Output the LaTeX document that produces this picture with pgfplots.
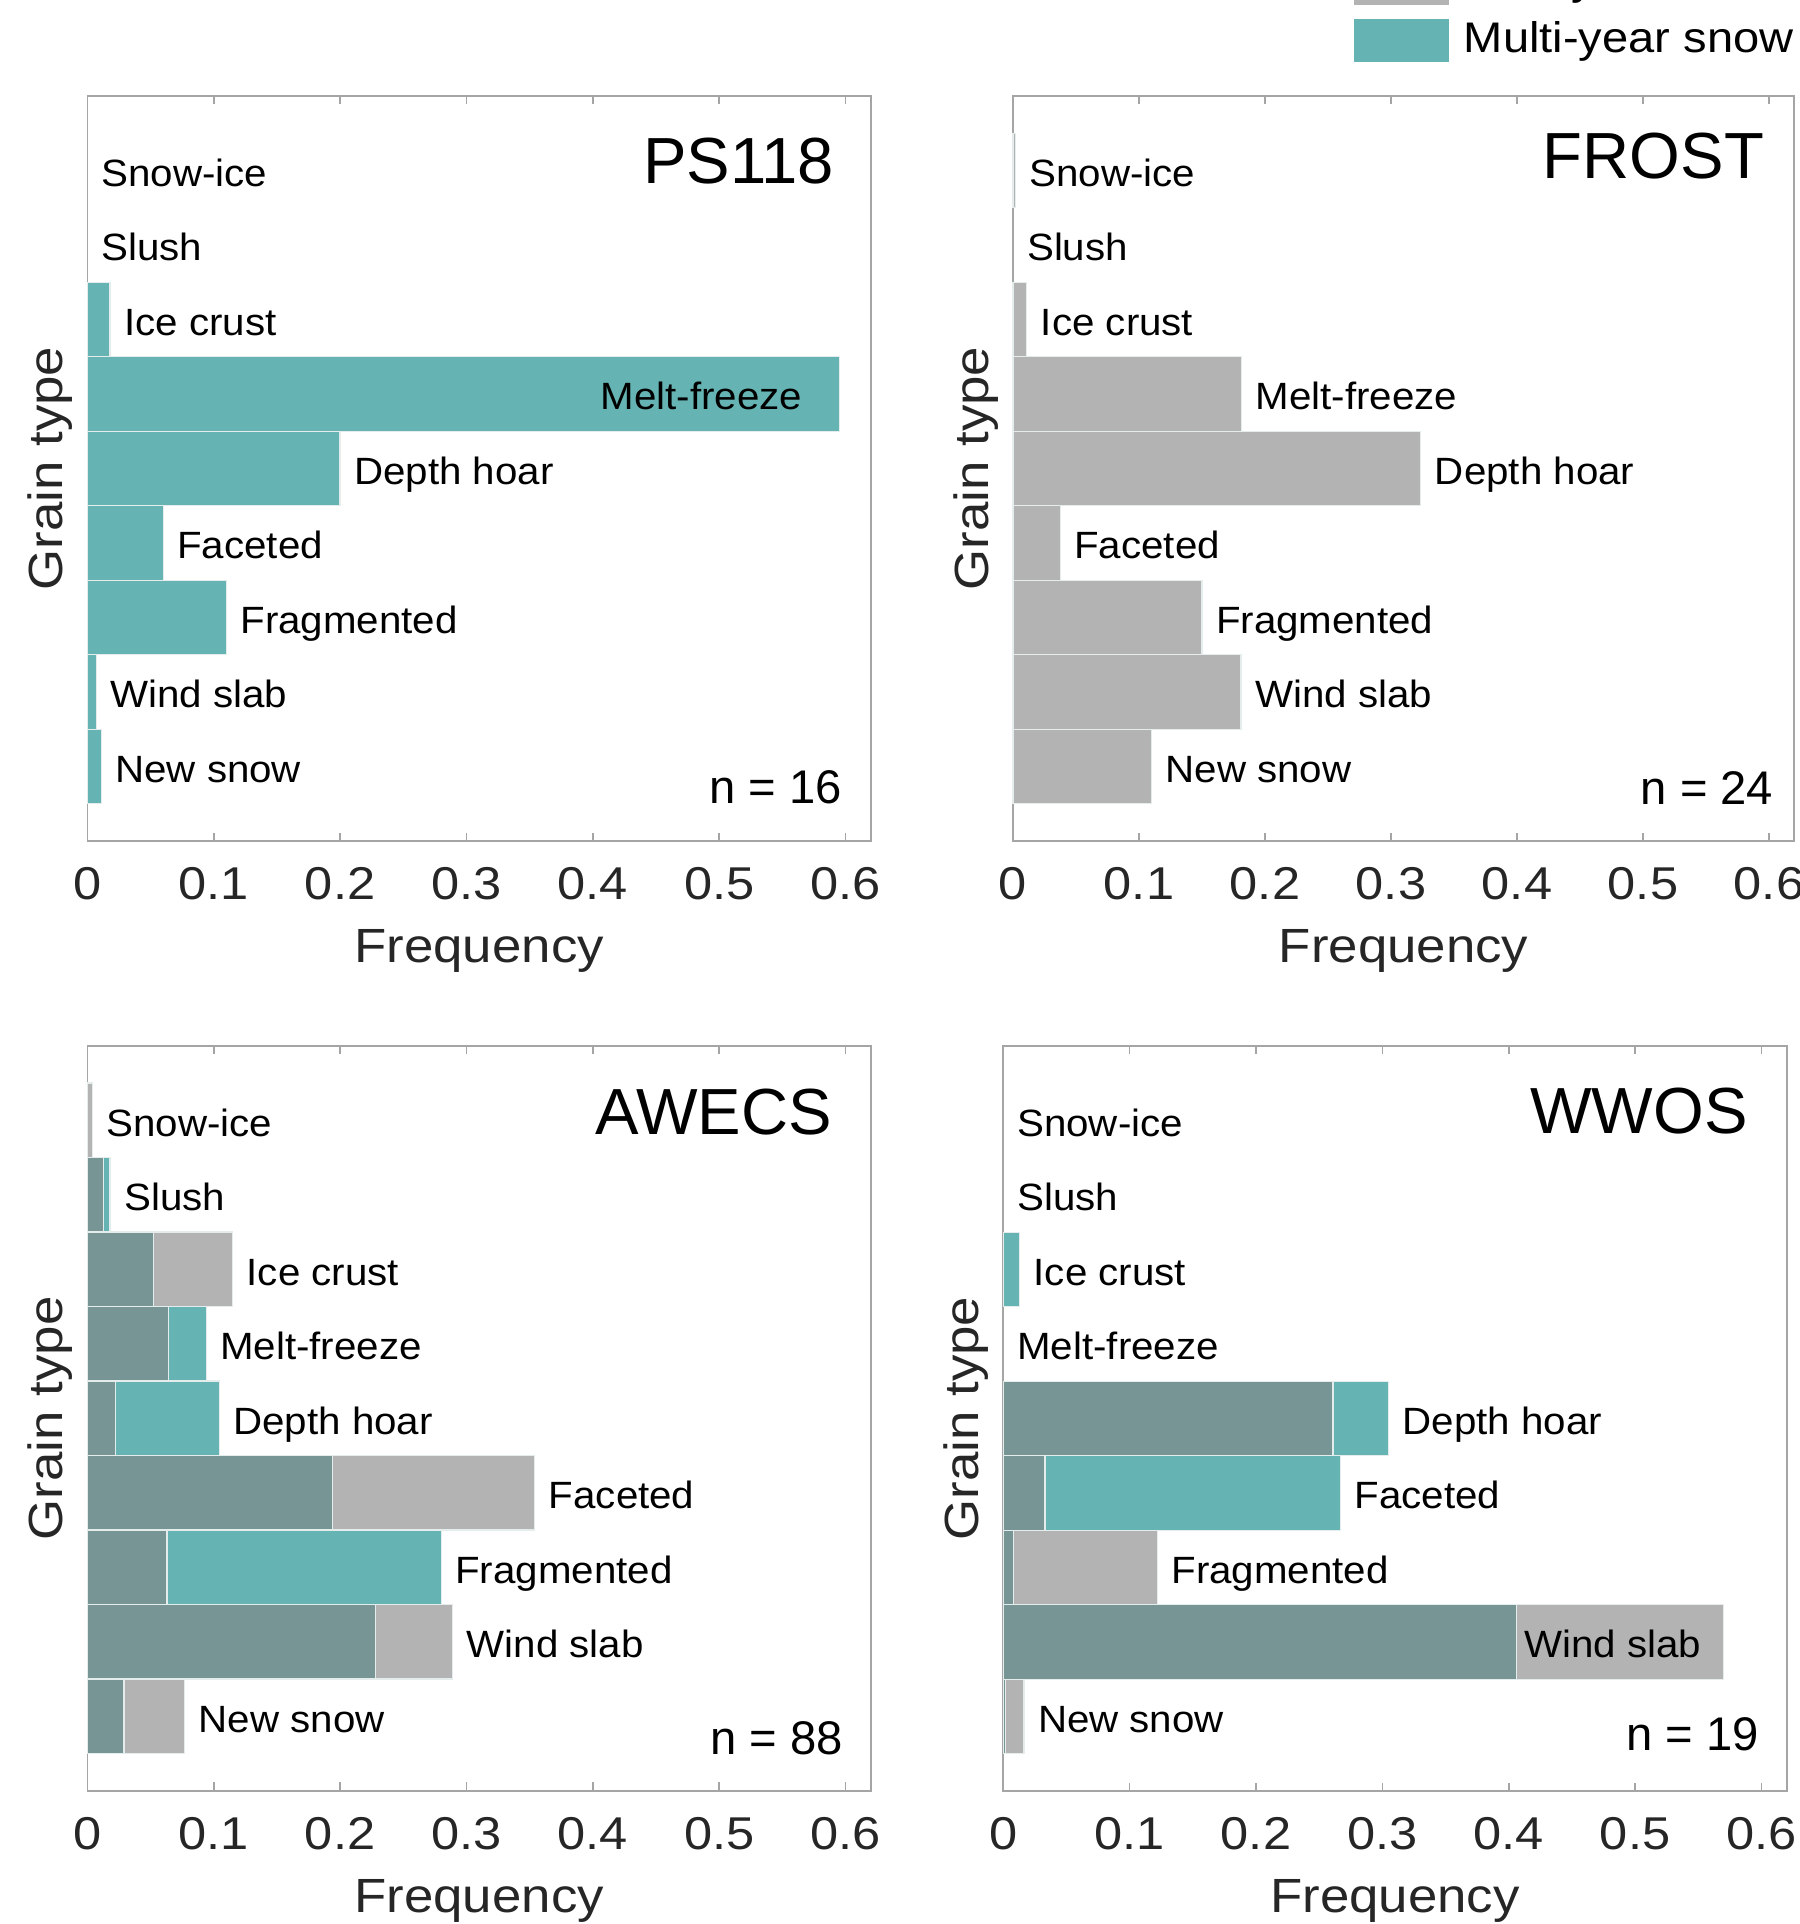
\documentclass[border=0pt]{standalone}
\usepackage{pgfplots}
\pgfplotsset{compat=1.18}
\usepackage{fontspec}
\setmainfont{Liberation Sans}[FakeStretch=1.1]
\newfontfamily\plainfont{Liberation Sans}
\newfontfamily\catfamily{Liberation Sans}[FakeStretch=1.06]

\definecolor{fy}{RGB}{179,179,179}
\definecolor{my}{RGB}{101,179,179}
\definecolor{ov}{RGB}{119,149,148}
\definecolor{axisgray}{RGB}{165,165,165}
\definecolor{tickgray}{RGB}{38,38,38}
\definecolor{edgec}{RGB}{228,236,236}

\newcommand\tickfont{\fontsize{11.5}{13}\selectfont}
\newcommand\catfont{\catfamily\fontsize{9.5}{11}\selectfont}
\newcommand\labfont{\fontsize{12}{14}\selectfont}
\newcommand\titfont{\plainfont\fontsize{16.3}{18}\selectfont}
\newcommand\nfont{\plainfont\fontsize{11.8}{13}\selectfont}
\newcommand\legfont{\fontsize{10.7}{12}\selectfont}

\pgfplotsset{
  gt/.style={
    scale only axis, width=195.9pt, height=186.25pt, anchor=south west,
    xmin=0, xmax=0.62, ymin=0, ymax=10,
    xbar, bar width=1, bar shift=0pt,
    axis line style={draw=axisgray, line width=0.4pt},
    xtick={0,0.1,0.2,0.3,0.4,0.5,0.6},
    xticklabels={0,0.1,0.2,0.3,0.4,0.5,0.6},
    ytick=\empty,
    xtick pos=both, xticklabel pos=lower,
    tick align=inside, major tick length=2.1pt,
    tick style={draw=axisgray, line width=0.4pt},
    xticklabel style={font=\tickfont, text=tickgray, inner sep=0pt, anchor=north,
      text height=8.25pt, text depth=0pt, yshift=-6.25pt},
    clip=false,
  },
  fyb/.style={fill=fy, draw=edgec, line width=0.3pt},
  myb/.style={fill=my, draw=edgec, line width=0.3pt},
  ovb/.style={fill=ov, draw=edgec, line width=0.3pt},
  lab/.style={draw=none, fill=none, nodes near coords, point meta=explicit symbolic,
    every node near coord/.style={anchor=west, inner sep=0pt, xshift=#1, yshift=-0.6pt,
      font=\catfont, text=black, text height=6.8pt, text depth=0pt}},
  lab/.default=3.33pt,
}

\newcommand\axlabels{%
  \node[anchor=base, inner sep=0pt, font=\labfont, text=tickgray] at (rel axis cs:0.5,-0.163) {Frequency};
  \node[anchor=base, rotate=90, inner sep=0pt, font=\labfont, text=tickgray] at (rel axis cs:-0.032,0.5) {Grain type};
}

\begin{document}
\begin{tikzpicture}
\path[use as bounding box] (0,0) rectangle (449.75pt,481pt);
\clip (0,0) rectangle (449.75pt,481pt);

% ---------------- PS118 ----------------
\begin{axis}[gt, at={(21.83pt,270.75pt)}]
  \addplot[myb] coordinates {(0.018,7) (0.595,6) (0.2,5) (0.06,4) (0.11,3) (0.007,2) (0.011,1)};
  \addplot[lab] coordinates {(0,9)[Snow-ice] (0,8)[Slush] (0.018,7)[Ice crust] (0.2,5)[Depth hoar]
    (0.06,4)[Faceted] (0.11,3)[Fragmented] (0.007,2)[Wind slab] (0.011,1)[New snow]};
  \addplot[lab=0pt] coordinates {(0.4054,6)[Melt-freeze]};
  \node[anchor=base east, inner sep=0pt, font=\titfont] at (axis cs:0.5915,8.83) {PS118};
  \node[anchor=base east, inner sep=0pt, font=\nfont] at (axis cs:0.5975,0.50) {n = 16};
  \axlabels
\end{axis}

% ---------------- FROST ----------------
\begin{axis}[gt, at={(253.25pt,270.75pt)}, width=195.3pt]
  \addplot[fyb] coordinates {(0.002,9) (0.011,7) (0.1815,6) (0.3237,5) (0.0374,4) (0.150,3) (0.181,2) (0.110,1)};
  \addplot[lab] coordinates {(0.002,9)[Snow-ice] (0,8)[Slush] (0.011,7)[Ice crust] (0.1815,6)[Melt-freeze]
    (0.3237,5)[Depth hoar] (0.0374,4)[Faceted] (0.150,3)[Fragmented] (0.181,2)[Wind slab] (0.110,1)[New snow]};
  \node[anchor=base east, inner sep=0pt, font=\titfont] at (axis cs:0.5966,8.886) {FROST};
  \node[anchor=base east, inner sep=0pt, font=\nfont] at (axis cs:0.604,0.483) {n = 24};
  \axlabels
\end{axis}

% ---------------- AWECS ----------------
\begin{axis}[gt, at={(21.83pt,33.3pt)}]
  \addplot[fyb] coordinates {(0.004,9) (0.013,8) (0.115,7) (0.064,6) (0.022,5) (0.354,4) (0.063,3) (0.289,2) (0.077,1)};
  \addplot[myb] coordinates {(0.018,8) (0.0525,7) (0.094,6) (0.1045,5) (0.194,4) (0.280,3) (0.228,2) (0.029,1)};
  \addplot[ovb] coordinates {(0.013,8) (0.0525,7) (0.064,6) (0.022,5) (0.194,4) (0.063,3) (0.228,2) (0.029,1)};
  \addplot[lab] coordinates {(0.004,9)[Snow-ice] (0.018,8)[Slush] (0.115,7)[Ice crust] (0.094,6)[Melt-freeze]
    (0.1045,5)[Depth hoar] (0.354,4)[Faceted] (0.280,3)[Fragmented] (0.289,2)[Wind slab] (0.077,1)[New snow]};
  \node[anchor=base east, inner sep=0pt, font=\titfont] at (axis cs:0.5897,8.805) {AWECS};
  \node[anchor=base east, inner sep=0pt, font=\nfont] at (axis cs:0.5987,0.49) {n = 88};
  \axlabels
\end{axis}

% ---------------- WWOS ----------------
\begin{axis}[gt, at={(250.8pt,33.25pt)}]
  \addplot[fyb] coordinates {(0.261,5) (0.033,4) (0.122,3) (0.570,2) (0.0164,1)};
  \addplot[myb] coordinates {(0.013,7) (0.305,5) (0.267,4) (0.008,3) (0.406,2) (0.002,1)};
  \addplot[ovb] coordinates {(0.261,5) (0.033,4) (0.008,3) (0.406,2) (0.002,1)};
  \addplot[lab] coordinates {(0,9)[Snow-ice] (0,8)[Slush] (0.013,7)[Ice crust] (0,6)[Melt-freeze]
    (0.305,5)[Depth hoar] (0.267,4)[Faceted] (0.122,3)[Fragmented] (0.0164,1)[New snow]};
  \addplot[lab=0pt] coordinates {(0.4118,2)[Wind slab]};
  \node[anchor=base east, inner sep=0pt, font=\titfont] at (axis cs:0.5895,8.82) {WWOS};
  \node[anchor=base east, inner sep=0pt, font=\nfont] at (axis cs:0.5987,0.54) {n = 19};
  \axlabels
\end{axis}

% ---------------- legend ----------------
\fill[fy] (338.5pt,479.8pt) rectangle (362.3pt,490.6pt);
\fill[my] (338.5pt,465.4pt) rectangle (362.3pt,476.2pt);
\node[anchor=base west, inner sep=0pt, font=\legfont] at (365.75pt,482.3pt) {First-year snow};
\node[anchor=base west, inner sep=0pt, font=\legfont] at (365.75pt,467.9pt) {Multi-year snow};
\end{tikzpicture}
\end{document}
